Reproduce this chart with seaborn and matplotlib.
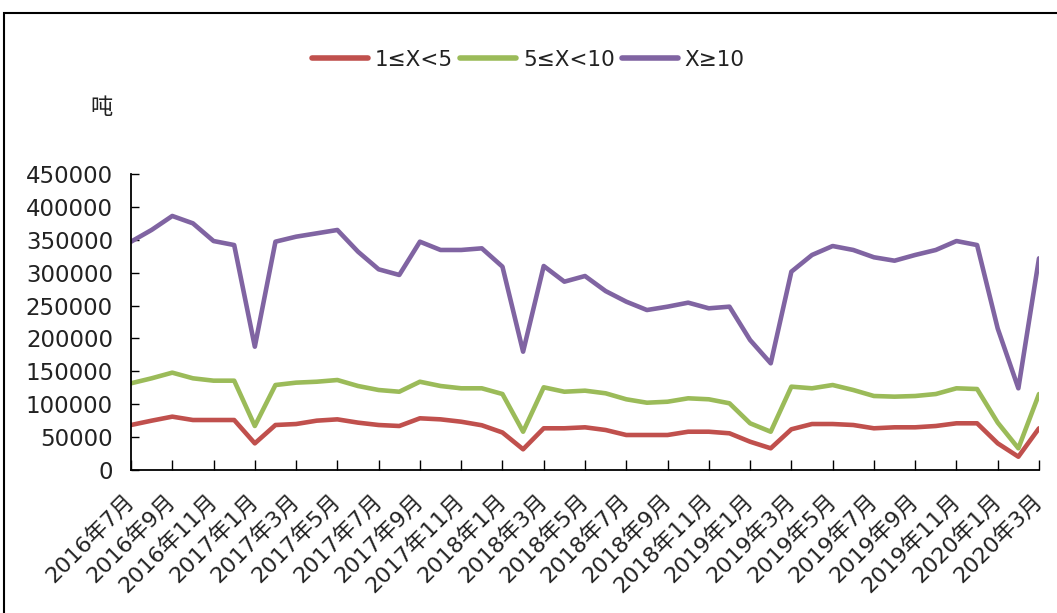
import matplotlib
matplotlib.use("Agg")
import matplotlib.pyplot as plt
from matplotlib.patches import Rectangle
from matplotlib.transforms import ScaledTranslation
import numpy as np
import pandas as pd
import seaborn as sns

# Monthly tonnage by vehicle size class, 2016-07 .. 2020-03
months = [str(p) for p in pd.period_range("2016-07", "2020-03", freq="M")]

small = [68400, 75000, 81100, 76000, 76000, 76000, 40500, 68400, 69900, 75000,
         77000, 72000, 68400, 66900, 78600, 77000, 73400, 68000, 57000, 31500,
         63400, 63400, 64900, 60800, 53200, 53200, 53200, 58200, 58200, 55800,
         43000, 33000, 61900, 69900, 69900, 68400, 63400, 64900, 64900, 66900,
         71000, 71000, 40500, 20200, 63400]

medium = [131800, 139400, 148000, 139400, 135800, 135800, 66900, 129200, 132800, 134200,
          136800, 127700, 121600, 119000, 134200, 127700, 124200, 124200, 115500, 58200,
          125700, 119000, 120600, 116600, 107500, 102300, 103800, 109000, 107500, 101400,
          71000, 58200, 126700, 124200, 129200, 121600, 112500, 111500, 112500, 115500,
          124200, 123100, 72000, 33000, 115500]

large = [347100, 365000, 386200, 375000, 348100, 342000, 187500, 347100, 354700, 359800,
         364900, 331900, 305100, 296500, 347100, 334500, 334500, 337000, 309100, 179900,
         310100, 286300, 294900, 272000, 255900, 243200, 248300, 254400, 245800, 248300,
         197600, 162200, 301500, 326900, 340500, 334500, 323400, 318200, 326900, 334500,
         348100, 342000, 215000, 124200, 321800]

series_names = ["1≤X<5", "5≤X<10", "X≥10"]
series_colors = ["#C0504D", "#9BBB59", "#8064A2"]

tick_labels = ["2016年7月", "2016年9月", "2016年11月", "2017年1月", "2017年3月", "2017年5月",
               "2017年7月", "2017年9月", "2017年11月", "2018年1月", "2018年3月", "2018年5月",
               "2018年7月", "2018年9月", "2018年11月", "2019年1月", "2019年3月", "2019年5月",
               "2019年7月", "2019年9月", "2019年11月", "2020年1月", "2020年3月"]

y_ticks = [0, 50000, 100000, 150000, 200000, 250000, 300000, 350000, 400000, 450000]

frames = []
for name, vals in zip(series_names, [small, medium, large]):
    frames.append(pd.DataFrame({"idx": np.arange(len(months)), "month": months,
                                "value": vals, "series": name}))
df = pd.concat(frames, ignore_index=True)

sns.set_theme(style="white")
plt.rcParams["font.family"] = ["DejaVu Sans", "Noto Sans CJK SC"]

fig = plt.figure(figsize=(10.57, 6.13), dpi=100)
ax = fig.add_axes([131 / 1057, 1 - 470 / 613, (1039 - 131) / 1057, (470 - 174) / 613])

sns.lineplot(data=df, x="idx", y="value", hue="series", hue_order=series_names,
             palette=series_colors, linewidth=3.3, ax=ax, legend=False)

ax.set_xlim(0, len(months) - 1)
ax.set_ylim(0, 450000)
ax.set_yticks(y_ticks)
ax.set_yticklabels([str(v) for v in y_ticks], fontsize=16.5, color="#222222")
ax.set_xticks(np.arange(0, len(months), 2))
ax.set_xticklabels(tick_labels, rotation=45, ha="right", va="center",
                   rotation_mode="anchor", fontsize=16, color="#222222")
shift = ScaledTranslation(-2 / 100, 0, fig.dpi_scale_trans)
for lab in ax.get_xticklabels():
    lab.set_transform(lab.get_transform() + shift)
ax.set_xlabel("")
ax.set_ylabel("")

for side in ["top", "right"]:
    ax.spines[side].set_visible(False)
for side in ["left", "bottom"]:
    ax.spines[side].set_color("black")
    ax.spines[side].set_linewidth(1.3)

ax.tick_params(axis="y", direction="in", length=6, width=1, color="black", pad=13, left=True)
ax.tick_params(axis="x", direction="in", length=7, width=1, color="black", pad=20, bottom=True)
ax.grid(False)

handles = [plt.Line2D([], [], color=c, linewidth=4) for c in series_colors]
fig.legend(handles, series_names, loc="center", bbox_to_anchor=(0.5, 1 - 60 / 613),
           ncol=3, frameon=False, fontsize=15.5, handlelength=2.6, handletextpad=0.3,
           columnspacing=0.35, labelcolor="#222222")

fig.text(101 / 1057, 1 - 108 / 613, "吨", fontsize=16, ha="center", va="center",
         family=["Noto Sans CJK SC", "DejaVu Sans"], color="#222222")

# outer chart frame
fig.patches.append(Rectangle((4 / 1057, -0.05), 1.2, 1 - 13 / 613 + 0.05,
                             transform=fig.transFigure, fill=False,
                             edgecolor="black", linewidth=1.5))

fig.savefig("out.png", dpi=100)
